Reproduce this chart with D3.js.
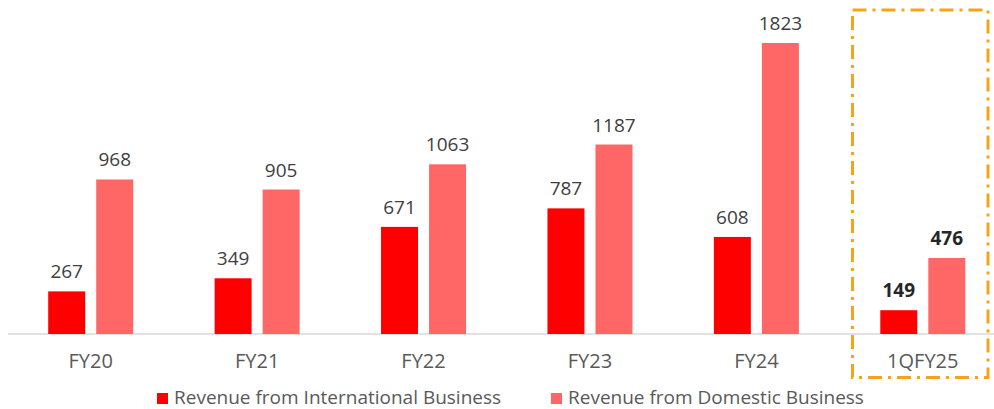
<!DOCTYPE html>
<html>
<head>
<meta charset="utf-8">
<script src="https://cdn.jsdelivr.net/npm/d3@7"></script>
<style>
  body { margin: 0; background: #fff; }
  svg { display: block; font-family: "Open Sans", Lato, sans-serif; }
</style>
</head>
<body>
<div id="chart"></div>
<script>
const periods = ['FY20', 'FY21', 'FY22', 'FY23', 'FY24', '1QFY25'];
const international = [267, 349, 671, 787, 608, 149];
const domestic = [968, 905, 1063, 1187, 1823, 476];
const seriesNames = ['Revenue from International Business', 'Revenue from Domestic Business'];
const highlighted = '1QFY25';

const width = 994;
const height = 409;
const baseline = 334;

const svg = d3.select('#chart')
  .append('svg')
  .attr('width', width)
  .attr('height', height);

const x = d3.scaleBand()
  .domain(periods)
  .range([7.5, 1006])
  .paddingInner(0)
  .paddingOuter(0);

const inner = d3.scaleBand()
  .domain(['intl', 'dom'])
  .range([x.bandwidth() / 2 - 42.5, x.bandwidth() / 2 + 42.5])
  .paddingInner(0.23);

const y = d3.scaleLinear()
  .domain([0, 1823])
  .range([baseline, 43]);

const color = d3.scaleOrdinal()
  .domain(['intl', 'dom'])
  .range(['#ff0000', '#ff6666']);

const rows = periods.map((p, i) => ({ period: p, intl: international[i], dom: domestic[i] }));

// baseline axis
svg.append('line')
  .attr('x1', 8).attr('x2', width)
  .attr('y1', baseline).attr('y2', baseline)
  .attr('stroke', '#d9d9d9')
  .attr('stroke-width', 1.5);

const groups = svg.selectAll('g.period')
  .data(rows)
  .join('g')
  .attr('class', 'period')
  .attr('transform', d => `translate(${x(d.period)},0)`);

groups.selectAll('rect')
  .data(d => ['intl', 'dom'].map(k => ({ key: k, value: d[k], period: d.period })))
  .join('rect')
  .attr('x', d => inner(d.key))
  .attr('width', inner.bandwidth())
  .attr('y', d => y(d.value))
  .attr('height', d => baseline - y(d.value))
  .attr('fill', d => color(d.key));

groups.selectAll('text.val')
  .data(d => ['intl', 'dom'].map(k => ({ key: k, value: d[k], period: d.period })))
  .join('text')
  .attr('class', 'val')
  .attr('x', d => inner(d.key) + inner.bandwidth() / 2)
  .attr('y', d => y(d.value) - 13)
  .attr('text-anchor', 'middle')
  .attr('font-size', 19)
  .attr('font-weight', d => d.period === highlighted ? 700 : 400)
  .attr('fill', d => d.period === highlighted ? '#262626' : '#404040')
  .text(d => d.value);

// category labels
svg.append('g')
  .selectAll('text')
  .data(periods)
  .join('text')
  .attr('x', d => x(d) + x.bandwidth() / 2)
  .attr('y', 368)
  .attr('text-anchor', 'middle')
  .attr('font-size', 20)
  .attr('fill', '#595959')
  .text(d => d);

// highlight box around latest quarter
svg.append('rect')
  .attr('x', 852.5)
  .attr('y', 10)
  .attr('width', 135.5)
  .attr('height', 367.5)
  .attr('fill', 'none')
  .attr('stroke', '#f5a31c')
  .attr('stroke-width', 3)
  .attr('stroke-dasharray', '14,6,3,6');

// legend
const legendX = [157, 551];
seriesNames.forEach((name, i) => {
  const key = ['intl', 'dom'][i];
  svg.append('rect')
    .attr('x', legendX[i]).attr('y', 393)
    .attr('width', 11).attr('height', 11)
    .attr('fill', color(key));
  svg.append('text')
    .attr('x', legendX[i] + 17).attr('y', 404)
    .attr('font-size', 19)
    .attr('fill', '#595959')
    .text(name);
});
</script>
</body>
</html>
